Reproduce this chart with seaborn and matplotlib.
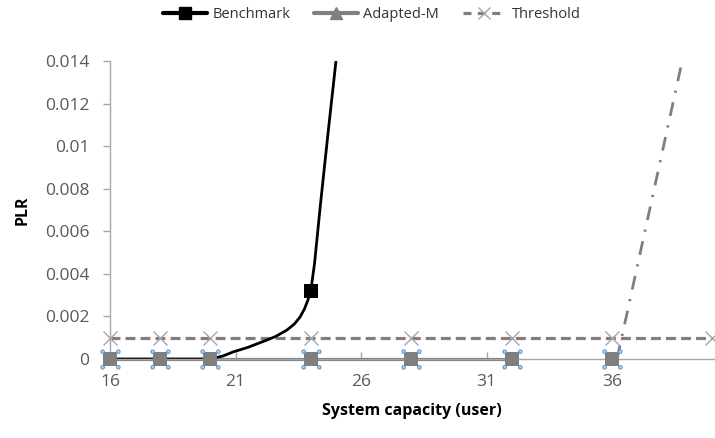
import numpy as np
import pandas as pd
import matplotlib
matplotlib.use("Agg")
import matplotlib.pyplot as plt
import seaborn as sns
from matplotlib.lines import Line2D
from matplotlib.path import Path

# ---------------- data ----------------
capacity = [16, 18, 20, 24, 28, 32, 36, 40]

# Benchmark smooth curve
benchmark_x = [16, 18, 20, 20.5, 20.9, 21.5, 22.25, 22.6, 23.05, 23.35, 23.57, 23.75, 23.88, 24,
               24.15, 24.37, 24.69, 25.05]
benchmark_y = [0, 0, 0, 0.00014, 0.00033, 0.00055, 0.00089, 0.00106, 0.00136, 0.00165, 0.00197,
               0.00236, 0.00275, 0.0032, 0.0045, 0.0071, 0.01065, 0.0145]
benchmark_mark_x = [16, 18, 20, 24]
benchmark_mark_y = [0, 0, 0, 0.0032]

adapted_x = [16, 18, 20, 24, 28, 32, 36]
adapted_y = [0, 0, 0, 0, 0, 0, 0]
adapted_line_x = [16, 18, 20, 24, 28, 32]
adapted_line_y = [0, 0, 0, 0, 0, 0]
adapted_rise_x = [36.2, 40]
adapted_rise_y = [0, 0.0205]

threshold_x = capacity
threshold_y = [0.001] * len(capacity)

yticks = [0, 0.002, 0.004, 0.006, 0.008, 0.01, 0.012, 0.014]
ytick_labels = ["0", "0.002", "0.004", "0.006", "0.008", "0.01", "0.012", "0.014"]
xticks = [16, 21, 26, 31, 36]

# ---------------- style ----------------
sns.set_style("white")
plt.rcParams["font.family"] = ["Open Sans", "DejaVu Sans"]

GREY = "#7f7f7f"
LGREY = "#a6a6a6"
TXT = "#595959"
AX = "#a6a6a6"

fig = plt.figure(figsize=(7.15, 4.38), dpi=100)
ax = fig.add_axes([110 / 715, 79 / 438, 604 / 715, 298 / 438])

# threshold dashed line with x markers
sns.lineplot(x=threshold_x, y=threshold_y, ax=ax, color=GREY, lw=2.3,
             estimator=None, sort=False, legend=False)
ax.lines[-1].set_dashes([3.1, 1.6])
ax.lines[-1].set_clip_on(False)
sns.lineplot(x=threshold_x, y=threshold_y, ax=ax, color=LGREY, lw=0,
             marker="x", markersize=10, markeredgewidth=1.0, markeredgecolor=LGREY,
             estimator=None, sort=False, legend=False)
ax.lines[-1].set_clip_on(False)

# Adapted-M solid line at zero
sns.lineplot(x=adapted_line_x, y=adapted_line_y, ax=ax, color=GREY, lw=2.3,
             estimator=None, sort=False, legend=False)
ax.lines[-1].set_clip_on(False)
# Adapted-M rising dash-dot part
sns.lineplot(x=adapted_rise_x, y=adapted_rise_y, ax=ax, color=GREY, lw=2.0,
             estimator=None, sort=False, legend=False)
ax.lines[-1].set_dashes([5, 3.5, 0.8, 3.5])

# Benchmark curve
sns.lineplot(x=benchmark_x, y=benchmark_y, ax=ax, color="black", lw=2.0,
             estimator=None, sort=False, legend=False)
ax.lines[-1].set_solid_joinstyle("round")
sns.scatterplot(x=benchmark_mark_x, y=benchmark_mark_y, ax=ax, color="black",
                marker="s", s=95, linewidth=0, legend=False, clip_on=False, zorder=4)

# Adapted-M markers + selection handles
sns.scatterplot(x=adapted_x, y=adapted_y, ax=ax, color=GREY, marker="s", s=110,
                linewidth=0, legend=False, clip_on=False, zorder=5)
circ = [Path.circle((cx, cy), 0.22) for cx in (-1, 1) for cy in (-1, 1)]
handles_path = Path.make_compound_path(*circ)
sns.scatterplot(x=adapted_x, y=adapted_y, ax=ax, marker=handles_path, s=190,
                color="#bdd7ee", edgecolor="#5b9bd5", linewidth=0.8,
                legend=False, clip_on=False, zorder=6)

ax.set_xlim(16, 16 + 604 / 25.1)
ax.set_ylim(0, 0.014)
ax.set_yticks(yticks)
ax.set_yticklabels(ytick_labels)
ax.set_xticks(xticks)
ax.set_xticklabels([str(v) for v in xticks])

for s in ["top", "right"]:
    ax.spines[s].set_visible(False)
for s in ["left", "bottom"]:
    ax.spines[s].set_color(AX)
    ax.spines[s].set_linewidth(1.0)
ax.tick_params(axis="y", direction="out", length=5, width=1, color=AX,
               labelsize=12.5, labelcolor=TXT, pad=10)
ax.tick_params(axis="x", direction="in", length=5, width=1, color=AX,
               labelsize=12.5, labelcolor=TXT, pad=11)
ax.tick_params(left=True, bottom=True)

ax.set_xlabel("System capacity (user)", fontsize=11.5, fontweight="bold", color="black", labelpad=9)
ax.set_ylabel("PLR", fontsize=11.5, fontweight="bold", color="black", labelpad=10)

leg_handles = [
    Line2D([], [], color="black", lw=3, marker="s", markersize=8),
    Line2D([], [], color=GREY, lw=3, marker="^", markersize=8),
    Line2D([], [], color=GREY, lw=2.3, dashes=[2.5, 2], marker="x", markersize=8,
           markeredgecolor=LGREY),
]
fig.legend(leg_handles, ["Benchmark", "Adapted-M", "Threshold"], loc="center",
           bbox_to_anchor=(372 / 715, 1 - 15 / 438), ncol=3, frameon=False,
           fontsize=10.5, handlelength=3.0, columnspacing=1.6, handletextpad=0.4,
           labelcolor="#333333")

fig.savefig("out.png", dpi=100)
